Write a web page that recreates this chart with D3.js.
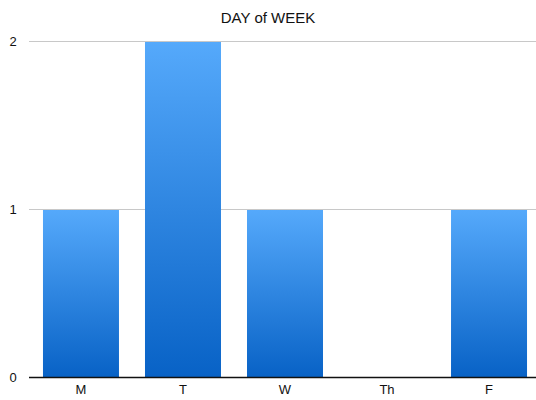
<!DOCTYPE html>
<html>
<head>
<meta charset="utf-8">
<script src="https://cdn.jsdelivr.net/npm/d3@7"></script>
<style>
  body { margin: 0; background: #fff; }
  text { font-family: "Liberation Sans", Arial, sans-serif; fill: #111; }
</style>
</head>
<body>
<svg id="chart" width="536" height="400"></svg>
<script>
const days = ["M", "T", "W", "Th", "F"];
const counts = [1, 2, 1, 0, 1];
const yTicks = [0, 1, 2];

const width = 536, height = 400;
const margin = { top: 41, right: 0, bottom: 23, left: 29 };

const svg = d3.select("#chart");

// band range runs a little past the right edge, like the original
const x = d3.scaleBand()
  .domain(days)
  .range([margin.left, 541])
  .paddingInner(0.255)
  .paddingOuter(0.137);

const y = d3.scaleLinear()
  .domain([0, 2])
  .range([height - margin.bottom, margin.top]);

// gradient for bars
const grad = svg.append("defs").append("linearGradient")
  .attr("id", "barGrad")
  .attr("x1", 0).attr("y1", 0).attr("x2", 0).attr("y2", 1);
grad.append("stop").attr("offset", "0%").attr("stop-color", "#55a9fb");
grad.append("stop").attr("offset", "100%").attr("stop-color", "#0862c6");

// title
svg.append("text")
  .attr("x", 268)
  .attr("y", 23)
  .attr("text-anchor", "middle")
  .style("font-size", "15px")
  .text("DAY of WEEK");

// gridlines
svg.append("g")
  .selectAll("line")
  .data(yTicks.filter(d => d > 0))
  .join("line")
  .attr("x1", margin.left)
  .attr("x2", width)
  .attr("y1", d => y(d) + 0.5)
  .attr("y2", d => y(d) + 0.5)
  .attr("stroke", "#c8c8c8")
  .attr("stroke-width", 1);

// y tick labels
svg.append("g")
  .selectAll("text")
  .data(yTicks)
  .join("text")
  .attr("x", 13)
  .attr("y", d => y(d))
  .attr("dy", "0.35em")
  .attr("text-anchor", "middle")
  .style("font-size", "13px")
  .text(d => d);

// bars
svg.append("g")
  .selectAll("rect")
  .data(days.map((d, i) => ({ day: d, value: counts[i] })).filter(d => d.value > 0))
  .join("rect")
  .attr("x", d => x(d.day))
  .attr("y", d => y(d.value) + 1)
  .attr("width", x.bandwidth())
  .attr("height", d => y(0) - y(d.value) - 1)
  .attr("fill", "url(#barGrad)");

// baseline
svg.append("line")
  .attr("x1", margin.left)
  .attr("x2", width)
  .attr("y1", y(0) + 0.5)
  .attr("y2", y(0) + 0.5)
  .attr("stroke", "#111")
  .attr("stroke-width", 1.5);

// x labels
svg.append("g")
  .selectAll("text")
  .data(days)
  .join("text")
  .attr("x", d => x(d) + x.bandwidth() / 2)
  .attr("y", 394)
  .attr("text-anchor", "middle")
  .style("font-size", "13px")
  .text(d => d);
</script>
</body>
</html>
